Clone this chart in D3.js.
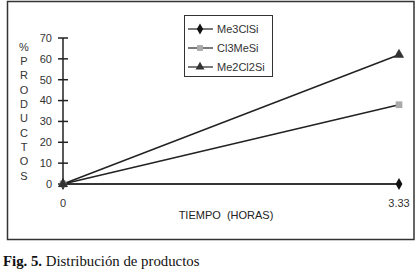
<!DOCTYPE html>
<html>
<head>
<meta charset="utf-8">
<script src="https://cdn.jsdelivr.net/npm/d3@7"></script>
<style>
  body { margin: 0; background: #fff; }
  svg { display: block; }
</style>
</head>
<body>
<div id="chart"></div>
<script>
const times = [0, 3.33]
const seriesNames = ['Me3ClSi', 'Cl3MeSi', 'Me2Cl2Si']
const me3ClSi = [0, 0]
const cl3MeSi = [0, 38]
const me2Cl2Si = [0, 62]
const yTicks = [0, 10, 20, 30, 40, 50, 60, 70]
const yTitle = ['%', 'P', 'R', 'O', 'D', 'U', 'C', 'T', 'O', 'S']

const width = 417
const height = 272

const svg = d3.select('#chart').append('svg')
  .attr('width', width)
  .attr('height', height)

// outer frame
svg.append('rect')
  .attr('x', 7.5).attr('y', 1.5)
  .attr('width', 406.5).attr('height', 238)
  .attr('fill', 'none')
  .attr('stroke', '#333')
  .attr('stroke-width', 1.5)

const x = d3.scaleLinear().domain([0, 3.33]).range([63, 399])
const y = d3.scaleLinear().domain([0, 70]).range([184, 38])

const font = 'Liberation Sans, Arial, sans-serif'

// y axis with crossing ticks
const yAxis = svg.append('g').attr('transform', `translate(${x(0)},0)`)
yAxis.append('line')
  .attr('y1', y(70)).attr('y2', y(0))
  .attr('stroke', '#222').attr('stroke-width', 1.5)
yAxis.selectAll('line.tick')
  .data(yTicks)
  .join('line')
  .attr('class', 'tick')
  .attr('x1', -5).attr('x2', 5)
  .attr('y1', d => y(d)).attr('y2', d => y(d))
  .attr('stroke', '#222').attr('stroke-width', 1.5)
yAxis.selectAll('text')
  .data(yTicks)
  .join('text')
  .attr('x', -11)
  .attr('y', d => y(d))
  .attr('dy', '0.35em')
  .attr('text-anchor', 'end')
  .attr('font-family', font)
  .attr('font-size', 11)
  .attr('fill', '#333')
  .text(d => d)

// x axis line
svg.append('line')
  .attr('x1', x(0)).attr('x2', x(3.33))
  .attr('y1', y(0)).attr('y2', y(0))
  .attr('stroke', '#444').attr('stroke-width', 1.5)

svg.selectAll('text.xtick')
  .data(times)
  .join('text')
  .attr('class', 'xtick')
  .attr('x', d => x(d))
  .attr('y', 207)
  .attr('text-anchor', 'middle')
  .attr('font-family', font)
  .attr('font-size', 11)
  .attr('fill', '#333')
  .text(d => d === 0 ? '0' : d.toFixed(2))

svg.append('text')
  .attr('x', 226).attr('y', 219)
  .attr('text-anchor', 'middle')
  .attr('font-family', font)
  .attr('font-size', 11)
  .attr('fill', '#222')
  .attr('xml:space', 'preserve')
  .style('white-space', 'pre')
  .text('TIEMPO  (HORAS)')

// vertical y title
svg.selectAll('text.ytitle')
  .data(yTitle)
  .join('text')
  .attr('class', 'ytitle')
  .attr('x', 24)
  .attr('y', (d, i) => 47 + i * 14.3)
  .attr('dy', '0.35em')
  .attr('text-anchor', 'middle')
  .attr('font-family', font)
  .attr('font-size', 11)
  .attr('fill', '#333')
  .text(d => d)

const series = [
  { name: seriesNames[0], values: me3ClSi, marker: 'diamond', color: '#111' },
  { name: seriesNames[1], values: cl3MeSi, marker: 'square', color: '#aaa' },
  { name: seriesNames[2], values: me2Cl2Si, marker: 'triangle', color: '#333' }
]

const symbolType = {
  diamond: d3.symbolDiamond,
  square: d3.symbolSquare,
  triangle: d3.symbolTriangle
}

const line = d3.line()
  .x((d, i) => x(times[i]))
  .y(d => y(d))

series.forEach(s => {
  svg.append('path')
    .datum(s.values)
    .attr('d', line)
    .attr('fill', 'none')
    .attr('stroke', '#222')
    .attr('stroke-width', 1.5)
})

series.forEach(s => {
  svg.selectAll(null)
    .data(s.values)
    .join('path')
    .attr('transform', (d, i) => `translate(${x(times[i])},${y(d)})`)
    .attr('d', d3.symbol().type(symbolType[s.marker]).size(s.marker === 'diamond' ? 40 : 45))
    .attr('fill', s.color)
})

// legend
const legend = svg.append('g')
legend.append('rect')
  .attr('x', 184.5).attr('y', 15.5)
  .attr('width', 88).attr('height', 61)
  .attr('fill', '#fff')
  .attr('stroke', '#333')
  .attr('stroke-width', 1)

series.forEach((s, i) => {
  const ly = 29 + i * 19
  legend.append('line')
    .attr('x1', 188).attr('x2', 213)
    .attr('y1', ly).attr('y2', ly)
    .attr('stroke', '#222').attr('stroke-width', 1.2)
  legend.append('path')
    .attr('transform', `translate(200,${ly})`)
    .attr('d', d3.symbol().type(symbolType[s.marker]).size(35))
    .attr('fill', s.color)
  legend.append('text')
    .attr('x', 217).attr('y', ly)
    .attr('dy', '0.35em')
    .attr('font-family', font)
    .attr('font-size', 11)
    .attr('fill', '#333')
    .text(s.name)
})

// caption
const caption = svg.append('text')
  .attr('x', 3).attr('y', 266)
  .attr('font-family', 'Liberation Serif, Times New Roman, serif')
  .attr('font-size', 14.8)
  .attr('fill', '#111')
caption.append('tspan').attr('font-weight', 'bold').text('Fig. 5.')
caption.append('tspan').text(' Distribución de productos')
</script>
</body>
</html>
